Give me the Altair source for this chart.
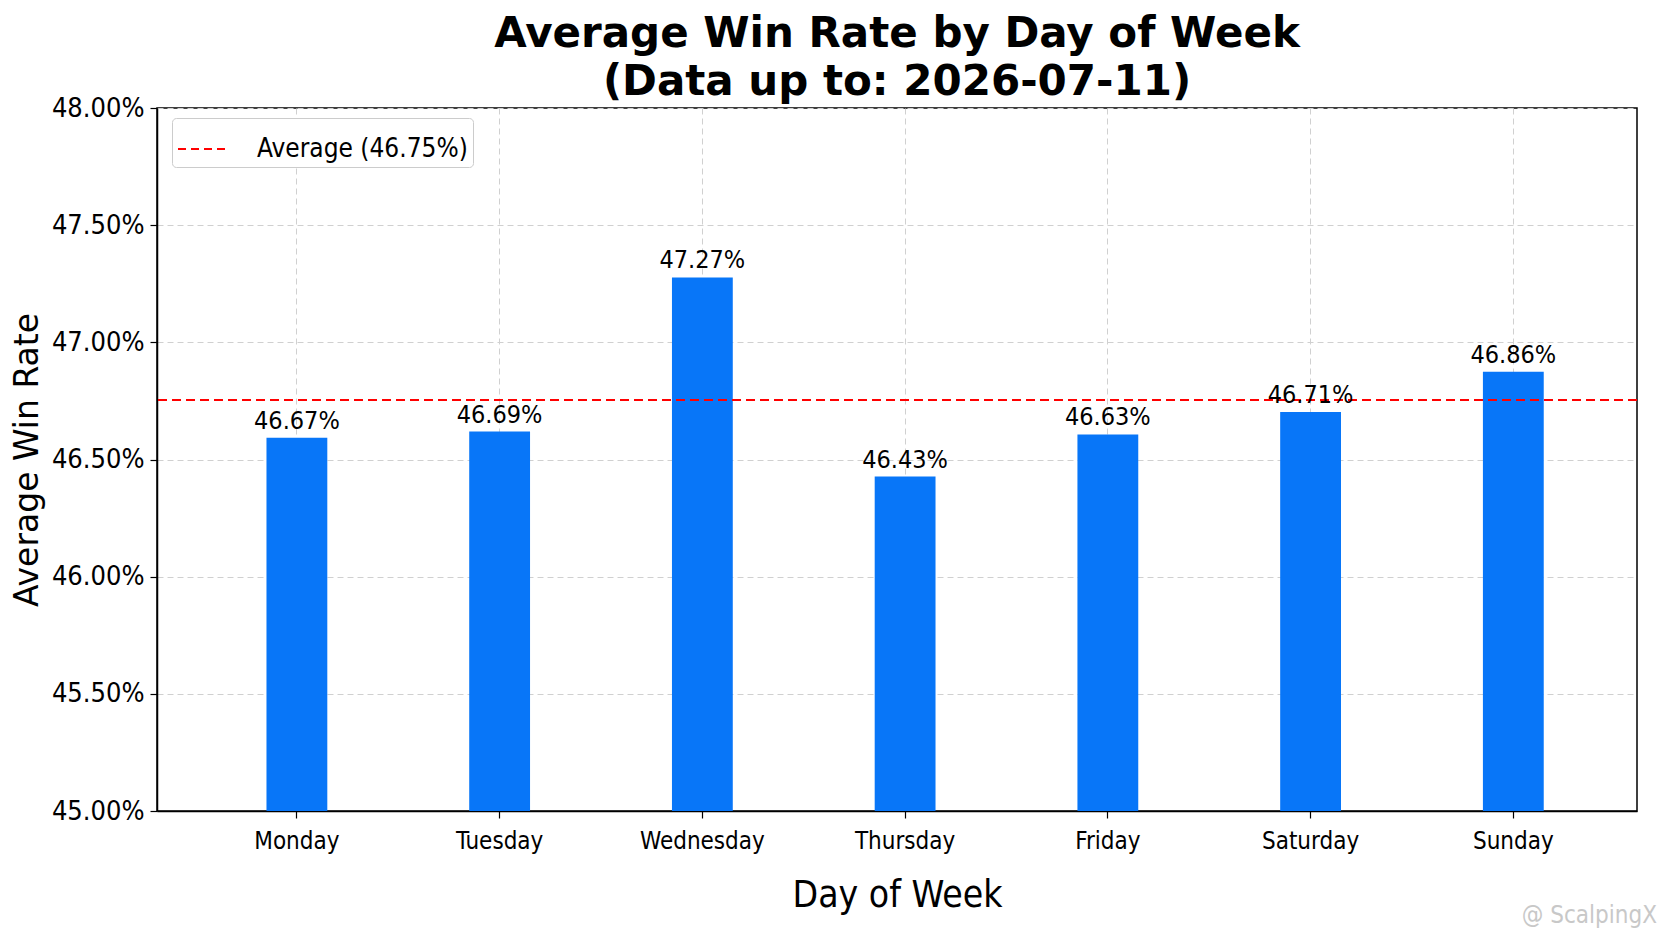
import altair as alt
import pandas as pd

# values
days = ["Monday", "Tuesday", "Wednesday", "Thursday", "Friday", "Saturday", "Sunday"]
win_rate = [46.593, 46.619, 47.277, 46.427, 46.607, 46.703, 46.875]
bar_labels = ["46.67%", "46.69%", "47.27%", "46.43%", "46.63%", "46.71%", "46.86%"]
avg_rate = [46.754]
avg_label = ["Average (46.75%)"]
y_ticks = [45.0, 45.5, 46.0, 46.5, 47.0, 47.5, 48.0]

FONT = "DejaVu Sans Condensed, DejaVu Sans"

df = pd.DataFrame({"day": days, "rate": win_rate, "label": bar_labels})
avg_df = pd.DataFrame({"avg": avg_rate, "name": avg_label})

x_enc = alt.X(
    "day:N",
    sort=days,
    title="Day of Week",
    scale=alt.Scale(paddingInner=0.7, paddingOuter=0.5, align=0.54),
    axis=alt.Axis(
        labelAngle=0,
        bandPosition=0.5,
        grid=True,
        labelFontSize=24,
        labelPadding=11,
        titleFontSize=37,
        titlePadding=24,
    ),
)
y_enc = alt.Y(
    "rate:Q",
    title="Average Win Rate",
    scale=alt.Scale(domain=[45, 48], nice=False, zero=False),
    axis=alt.Axis(
        values=y_ticks,
        labelExpr="format(datum.value, '.2f') + '%'",
        labelFontSize=27,
        labelPadding=6,
        titleFontSize=33,
        titleFont="DejaVu Sans",
        titlePadding=7,
    ),
)

bars = (
    alt.Chart(df)
    .mark_bar(color="#0876f8")
    .encode(x=x_enc, y=y_enc, y2=alt.datum(45))
)

text = (
    alt.Chart(df)
    .mark_text(baseline="bottom", dy=-4, fontSize=25, font=FONT, color="black")
    .encode(x=alt.X("day:N", sort=days), y="rate:Q", text="label:N")
)

avg_line = (
    alt.Chart(avg_df)
    .mark_rule(strokeDash=[9, 5], strokeWidth=2)
    .encode(
        y="avg:Q",
        color=alt.Color(
            "name:N",
            scale=alt.Scale(range=["#ff0000"]),
            legend=alt.Legend(
                title=None,
                orient="none",
                legendX=15,
                legendY=10,
                symbolType="stroke",
                symbolSize=2500,
                symbolStrokeWidth=2,
                symbolDash=[8, 5],
                labelFontSize=26,
                labelFont=FONT,
                labelLimit=500,
                labelOffset=28,
                strokeColor="#cccccc",
                fillColor="white",
                cornerRadius=4,
                padding=5,
            ),
        ),
    )
)

watermark = (
    alt.Chart(avg_df)
    .mark_text(align="right", fontSize=24, font=FONT, color="#c8c8c8")
    .encode(x=alt.value(1500), y=alt.value(808), text=alt.value("@ ScalpingX"))
)

chart = (
    alt.layer(bars, avg_line, text, watermark)
    .properties(
        width=1480,
        height=703,
        background="white",
        padding={"left": 3, "top": 5, "right": 0, "bottom": 5},
        title=alt.TitleParams(
            ["Average Win Rate by Day of Week", "(Data up to: 2026-07-11)"],
            fontSize=42,
            fontWeight="bold",
            font="DejaVu Sans",
            lineHeight=48,
            anchor="middle",
            offset=-10,
            color="black",
        ),
    )
    .configure_view(stroke="black", strokeWidth=1.5)
    .configure_axis(
        labelFont=FONT,
        titleFont=FONT,
        titleFontWeight="normal",
        labelColor="black",
        titleColor="black",
        domainColor="black",
        domainWidth=1.5,
        tickColor="black",
        tickSize=7,
        tickWidth=1.2,
        gridColor="#d0d0d0",
        gridDash=[6, 4],
        gridWidth=1,
    )
)

chart.save("out.html", embed_options={"renderer": "svg", "actions": False})
